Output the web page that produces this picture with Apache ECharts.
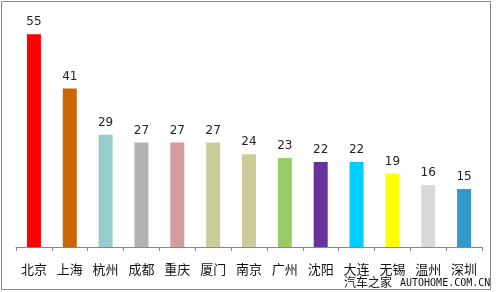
<!DOCTYPE html>
<html><head><meta charset="utf-8">
<script src="https://cdn.jsdelivr.net/npm/echarts@6/dist/echarts.min.js"></script>
<style>html,body{margin:0;padding:0;background:#fff}#c{width:497px;height:292px}</style>
</head><body><div id="c"></div>
<script>
const categories = ['北京','上海','杭州','成都','重庆','厦门','南京','广州','沈阳','大连','无锡','温州','深圳'];
const values = [55,41,29,27,27,27,24,23,22,22,19,16,15];
const barColors = ['#FF0000','#CC6600','#99CCCC','#B2B2B2','#D09C9C','#CCCC99','#CCCC99','#99CC66','#663399','#00CCFF','#FFFF00','#D9D9D9','#3399CC'];
const chart = echarts.init(document.getElementById('c'));
chart.setOption({
  animation:false,
  backgroundColor:'#fff',
  grid:{left:16,right:15,top:15,bottom:45},
  xAxis:{type:'category',data:categories,
    axisLine:{lineStyle:{color:'#888',width:1}},
    axisTick:{show:true,length:4,lineStyle:{color:'#888'}},
    axisLabel:{color:'#111',fontSize:13,margin:16,fontFamily:'Noto Sans CJK SC'}},
  yAxis:{type:'value',min:0,max:60,show:false,splitLine:{show:false}},
  series:[{type:'bar',barWidth:14,
    data:values.map((v,i)=>({value:v,itemStyle:{color:barColors[i]}})),
    label:{show:true,position:'top',distance:6,color:'#222',fontSize:12,fontFamily:'DejaVu Sans'}}],
  graphic:[
    {type:'rect',shape:{x:1.5,y:1.5,width:489,height:288},style:{fill:'none',stroke:'#888',lineWidth:1},z:-1},
    {type:'text',left:344,top:276,style:{text:'汽车之家',font:'12px "Noto Sans CJK SC"',fill:'#111'}},
    {type:'text',left:400,top:278,style:{text:'AUTOHOME.COM.CN',font:'10px "DejaVu Sans Mono"',fill:'#111'}}
  ]
});
</script></body></html>
